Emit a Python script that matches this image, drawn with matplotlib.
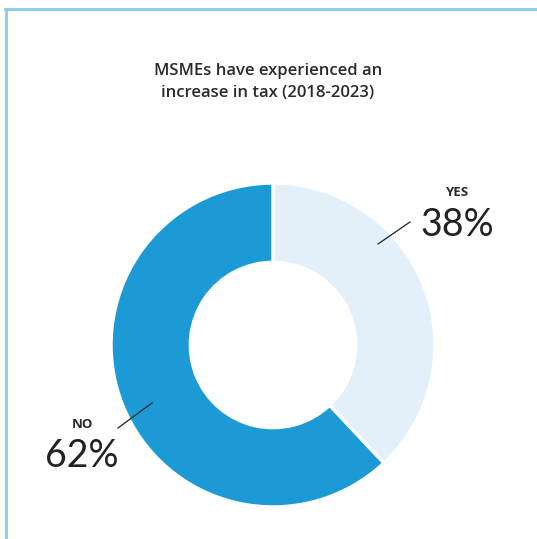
import matplotlib.pyplot as plt
from matplotlib.lines import Line2D

labels = ["YES", "NO"]
shares = [38, 62]
colors = ["#e3f0f9", "#1b9ad6"]
title = "MSMEs have experienced an\nincrease in tax (2018-2023)"

W, H = 537, 539
fig = plt.figure(figsize=(W / 100, H / 100), dpi=100)
ax = fig.add_axes([0, 0, 1, 1])

# light blue frame on top and left edges
fig.add_artist(Line2D([5 / W, 1], [1 - 9 / H, 1 - 9 / H], color="#86cdea", lw=2))
fig.add_artist(Line2D([6 / W, 6 / W], [0, 1 - 9 / H], color="#86cdea", lw=2))

cx, cy, r = 273, H - 345, 162
wedges, _ = ax.pie(
    shares,
    colors=colors,
    startangle=90,
    counterclock=False,
    center=(cx, cy),
    radius=r,
    wedgeprops=dict(width=r * 0.49, edgecolor="white", linewidth=2.5),
    frame=True,
)
ax.set_xlim(0, W)
ax.set_ylim(0, H)
ax.set_aspect("equal")
ax.axis("off")

ax.text(268, H - 82, title, ha="center", va="center", fontsize=12,
        fontweight="semibold", family="Open Sans", color="#2b2b2b", linespacing=1.45)

# leader lines and labels
label_pos = {"YES": (457, 193), "NO": (82, 424)}
leaders = {"YES": ((378, 244), (410, 222)), "NO": ((152, 403), (118, 428))}
for lab, val in zip(labels, shares):
    (x0, y0), (x1, y1) = leaders[lab]
    ax.plot([x0, x1], [H - y0, H - y1], color="#222222", lw=0.9)
    tx, ty = label_pos[lab]
    ax.text(tx, H - ty, lab, ha="center", va="center", fontsize=9.5,
            fontweight="bold", family="Open Sans", color="#2b2b2b")
    ax.text(tx, H - ty - 32, f"{val}%", ha="center", va="center", fontsize=27,
            family="Lato", color="#222222")

fig.savefig("out.png", dpi=100)
